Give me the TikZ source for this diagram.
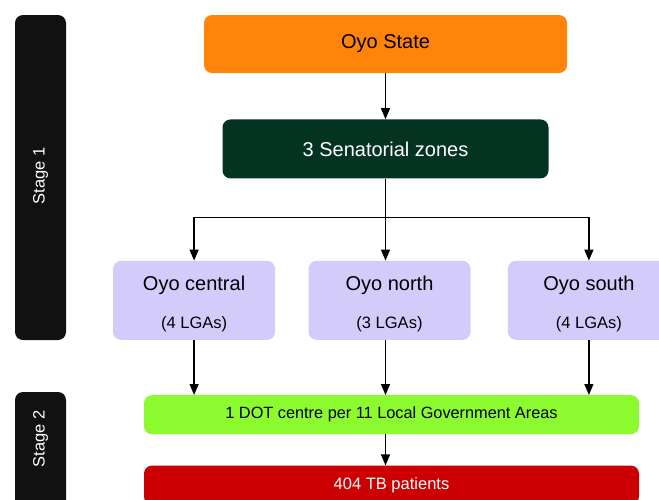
\documentclass[tikz,border=0pt]{standalone}
\usepackage{fontspec}
\setmainfont{Liberation Sans}
\usetikzlibrary{arrows.meta,positioning}
\definecolor{cState}{HTML}{FF8409}
\definecolor{cZone}{HTML}{053321}
\definecolor{cLga}{HTML}{D3CCFA}
\definecolor{cDot}{HTML}{8BFB2F}
\definecolor{cPat}{HTML}{CC0000}
\definecolor{cStage}{HTML}{111111}
\newcommand{\lgafont}{\fontsize{16.5}{19}\selectfont}
% zone name over its LGA count, set a little low in the box
\newcommand{\zonetext}[2]{\raisebox{-3.5pt}[\height][\depth]{#1}\\[14pt]%
  \raisebox{-3.5pt}[\height][\depth]{\lgafont #2}}
\tikzset{
  box/.style={rounded corners=8pt, fill=#1, draw=none, align=center,
              inner sep=0pt, text=black},
  statebox/.style={box=cState, minimum width=363pt, minimum height=58pt,
                   font=\fontsize{20}{24}\selectfont},
  zonebox/.style={box=cZone, text=white, minimum width=326pt, minimum height=59pt,
                  font=\fontsize{20}{24}\selectfont},
  lgabox/.style={box=cLga, minimum width=162pt, minimum height=79pt,
                 font=\fontsize{20}{24}\selectfont},
  dotbox/.style={box=cDot, minimum width=495pt, minimum height=39pt,
                 font=\fontsize{16.3}{19}\selectfont},
  patbox/.style={box=cPat, text=white, minimum width=495pt, minimum height=39pt,
                 font=\fontsize{16.5}{19}\selectfont},
  stagebar/.style={box=cStage, rotate=90, minimum height=51pt},
  stagetext/.style={text=white, rotate=90, inner sep=0pt,
                    font=\fontsize{16.5}{19}\selectfont},
  flow/.style={-{Triangle[length=11pt, width=9pt]}, line width=1.3pt, draw=black},
  link/.style={line width=1.3pt, draw=black},
}
\begin{document}
\begin{tikzpicture}[x=1pt, y=-1pt, node distance=33pt and 33pt]
  \useasboundingbox (0,0) rectangle (659,499);

  % stages
  \node[stagebar, minimum width=325pt] (stageonebar) at (40.5,177.5) {};
  \node[stagetext] (stageone) at (40.5,176) {Stage 1};
  \node[stagebar, minimum width=138pt] (stagetwobar) at (40.5,461) {};
  \node[stagetext] (stagetwo) at (40.5,439) {Stage 2};

  % state and zones
  \node[statebox] (state) at (385.5,44) {Oyo State};
  \node[zonebox, below=46pt of state] (zones) {3 Senatorial zones};

  % senatorial zones
  \node[lgabox, below=82pt of zones, xshift=4pt] (north) {\zonetext{Oyo north}{(3 LGAs)}};
  \node[lgabox, left=33pt of north] (central) {\zonetext{Oyo central}{(4 LGAs)}};
  \node[lgabox, right=37pt of north] (south) {\zonetext{Oyo south}{(4 LGAs)}};

  % stage 2
  \node[dotbox, below=55pt of north, xshift=2pt] (dot) {1 DOT centre per 11 Local Government Areas};
  \node[patbox, below=31pt of dot] (patients) {404 TB patients};

  \draw[flow] (state) -- (zones);
  \path (zones.south) ++(0,39) coordinate (split);
  \draw[link] (zones.south) -- (split);
  \draw[flow] (split) -| (central.north);
  \draw[flow] (split) -| (south.north);
  \draw[flow] (split) -- (split |- north.north);

  \draw[flow] (central) -- (central |- dot.north);
  \draw[flow] (north.south -| split) -- (dot.north -| split);
  \draw[flow] (south) -- (south |- dot.north);
  \draw[flow] (dot.south -| split) -- (patients.north -| split);
\end{tikzpicture}
\end{document}
